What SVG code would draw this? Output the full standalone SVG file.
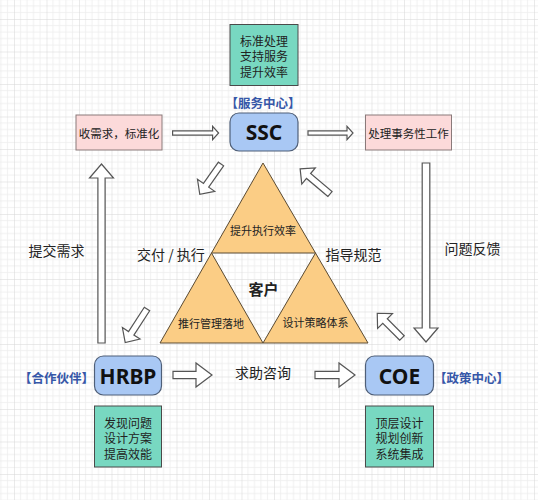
<svg xmlns="http://www.w3.org/2000/svg" width="538" height="500" viewBox="0 0 538 500">
<defs>
<pattern id="grid" width="32.5" height="32.5" patternUnits="userSpaceOnUse" patternTransform="translate(14,19)">
<path d="M6.5,0V32.5M13,0V32.5M19.5,0V32.5M26,0V32.5M0,6.5H32.5M0,13H32.5M0,19.5H32.5M0,26H32.5" stroke="#ececec" stroke-width="0.8" fill="none"/>
<path d="M0,0V32.5M0,0H32.5" stroke="#d6d6d6" stroke-width="1" fill="none"/>
</pattern>
<style>
.cn{font-family:"Noto Sans CJK SC","Noto Sans",sans-serif;fill:#222;text-anchor:middle;dominant-baseline:central}
.lat{font-family:"Noto Sans","Liberation Sans",sans-serif;font-weight:bold;fill:#111;text-anchor:middle;dominant-baseline:central;font-size:21px}
.blue{font-family:"Noto Sans CJK SC",sans-serif;font-weight:bold;fill:#3657a8;text-anchor:middle;dominant-baseline:central;font-size:12.5px}
.green{fill:#78d8c1;stroke:#4a4a4a;stroke-width:1}
.pink{fill:#fcdada;stroke:#8a7a7a;stroke-width:1}
.core{fill:#a9c8f4;stroke:#4f5f78;stroke-width:1.2}
.tri{fill:#fbcd85;stroke:#5a4a32;stroke-width:1}
.arr{fill:#fff;stroke:#555;stroke-width:1.2;stroke-linejoin:miter}
</style>
</defs>
<rect width="538" height="500" fill="#fff"/>
<rect width="538" height="500" fill="url(#grid)"/>

<g id="connectors">
<path class="arr" transform="translate(172.6,133)" d="M0,-2.2H40V-6.6L46,0L40,6.6V2.2H0Z"/>
<path class="arr" transform="translate(308,133)" d="M0,-2.2H39V-6.6L45,0L39,6.6V2.2H0Z"/>
<path class="arr" transform="translate(173,375)" d="M0,-3.7H23V-12L39,0L23,12V3.7H0Z"/>
<path class="arr" transform="translate(315,375)" d="M0,-3.7H24V-12L40,0L24,12V3.7H0Z"/>
<path class="arr" transform="translate(101.5,343) rotate(-90)" d="M0,-3.6H165V-12L179,0L165,12V3.6H0Z"/>
<path class="arr" transform="translate(426,163) rotate(90)" d="M0,-3.8H165V-12L179,0L165,12V3.8H0Z"/>
<path class="arr" transform="translate(221,164) rotate(125)" d="M0,-3.2H26V-10.5L37,0L26,10.5V3.2H0Z"/>
<path class="arr" transform="translate(330,194) rotate(220)" d="M0,-3.2H28V-10.5L39,0L28,10.5V3.2H0Z"/>
<path class="arr" transform="translate(147,309) rotate(123)" d="M0,-3.2H29V-10.5L40,0L29,10.5V3.2H0Z"/>
<path class="arr" transform="translate(402,338) rotate(225)" d="M0,-3.2H24V-10.5L35,0L24,10.5V3.2H0Z"/>
<text class="cn" x="56.5" y="250" font-size="14">提交需求</text>
<text class="cn" x="472.5" y="248" font-size="14">问题反馈</text>
<text class="cn" x="171" y="254" font-size="14">交付 / 执行</text>
<text class="cn" x="353.5" y="254" font-size="14">指导规范</text>
<text class="cn" x="263" y="372" font-size="14">求助咨询</text>
</g>

<g id="ssc-desc">
<rect class="green" x="230" y="24.5" width="68" height="61"/>
<text class="cn" x="264" y="40" font-size="12">标准处理</text>
<text class="cn" x="264" y="55.5" font-size="12">支持服务</text>
<text class="cn" x="264" y="71" font-size="12">提升效率</text>
</g>

<g id="ssc">
<text class="blue" x="263" y="102">【服务中心】</text>
<rect class="core" x="230" y="113" width="68" height="38" rx="9"/>
<text class="lat" x="264" y="132">SSC</text>
</g>

<g id="collect">
<rect class="pink" x="76" y="115" width="86" height="35"/>
<text class="cn" x="119" y="132.5" font-size="11.5">收需求，标准化</text>
</g>

<g id="process">
<rect class="pink" x="365.5" y="115" width="86" height="35"/>
<text class="cn" x="408.5" y="132.5" font-size="11.5">处理事务性工作</text>
</g>

<g id="customer">
<polygon class="tri" points="263,163 211.5,253 315.5,253"/>
<polygon class="tri" points="211.5,253 160,343 263,343"/>
<polygon class="tri" points="315.5,253 263,343 368,343"/>
<text class="cn" x="263" y="230" font-size="11">提升执行效率</text>
<text class="cn" x="211" y="323" font-size="11">推行管理落地</text>
<text class="cn" x="315.5" y="322" font-size="11">设计策略体系</text>
<text class="cn" x="263.5" y="288" font-size="15" font-weight="bold">客户</text>
</g>

<g id="hrbp">
<text class="blue" x="56.5" y="377">【合作伙伴】</text>
<rect class="core" x="94.5" y="356" width="67" height="39" rx="9"/>
<text class="lat" x="128" y="376">HRBP</text>
</g>

<g id="coe">
<text class="blue" x="471.5" y="377">【政策中心】</text>
<rect class="core" x="365.5" y="356" width="68" height="39" rx="9"/>
<text class="lat" x="399.5" y="376">COE</text>
</g>

<g id="hrbp-desc">
<rect class="green" x="94.5" y="406" width="67" height="61"/>
<text class="cn" x="128" y="422" font-size="12">发现问题</text>
<text class="cn" x="128" y="437.5" font-size="12">设计方案</text>
<text class="cn" x="128" y="453" font-size="12">提高效能</text>
</g>

<g id="coe-desc">
<rect class="green" x="365.5" y="406" width="68" height="61"/>
<text class="cn" x="399.5" y="422" font-size="12">顶层设计</text>
<text class="cn" x="399.5" y="437.5" font-size="12">规划创新</text>
<text class="cn" x="399.5" y="453" font-size="12">系统集成</text>
</g>
</svg>
